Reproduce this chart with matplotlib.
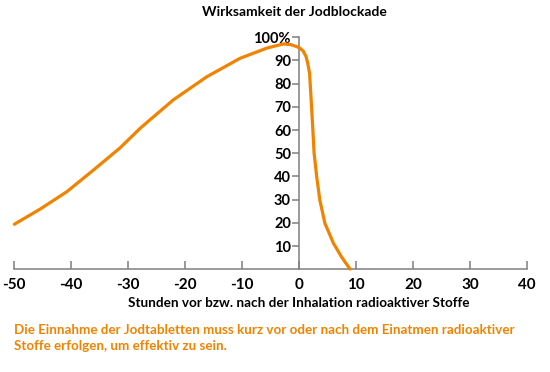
import matplotlib.pyplot as plt

# Stunden relativ zur Inhalation / Wirksamkeit in %
stunden = [-50, -45.5, -40.8, -36.1, -31.5, -27.9, -26.2, -22.1, -16.2, -10.4,
           -7.5, -5.7, -2.8, -1.5, -0.5, 0.1, 0.7, 1.2, 1.5, 1.8, 2.05, 2.35,
           2.6, 3.05, 3.6, 4.5, 6.0, 7.4, 8.9]
wirkung = [19.4, 25.9, 33.4, 42.8, 52.2, 60.8, 64.4, 73.0, 83.0, 90.9,
           93.6, 95.3, 97.1, 96.8, 96.0, 95.3, 94.0, 91.6, 88.5, 84.5, 74.4, 61.5,
           50, 40, 29.9, 19.8, 11.2, 5.4, 0.1]
x_ticks = [-50, -40, -30, -20, -10, 0, 10, 20, 30, 40]
y_ticks = [10, 20, 30, 40, 50, 60, 70, 80, 90, 100]
y_labels = ['10', '20', '30', '40', '50', '60', '70', '80', '90', '100%']

orange = '#f08300'
grau = '#7f7f7f'
plt.rcParams['font.family'] = ['Lato', 'DejaVu Sans']
plt.rcParams['font.weight'] = 'bold'

fig = plt.figure(figsize=(5.5, 3.72), dpi=100)
ax = fig.add_axes([0.026, 0.276, 0.9327, 0.624])
ax.plot(stunden, wirkung, color=orange, lw=2.3, solid_capstyle='round', clip_on=False, zorder=3)
ax.set_xlim(-50, 40)
ax.set_ylim(0, 100)

for s in ['top', 'right']:
    ax.spines[s].set_visible(False)
ax.spines['left'].set_position(('data', 0))
ax.spines['left'].set_color(grau)
ax.spines['bottom'].set_color(grau)
ax.spines['left'].set_linewidth(1.1)
ax.spines['bottom'].set_linewidth(1.1)

ax.set_xticks(x_ticks)
ax.set_xticklabels([str(t) for t in x_ticks])
ax.set_yticks(y_ticks)
ax.set_yticklabels(y_labels)
ax.tick_params(axis='x', direction='in', length=6, width=1.1, color=grau, pad=6, labelsize=11)
ax.tick_params(axis='y', direction='out', length=5, width=1.1, color=grau, pad=1, labelsize=10.5)

ax.set_xlabel('Stunden vor bzw. nach der Inhalation radioaktiver Stoffe', fontsize=9.7, fontweight='bold')
ax.xaxis.set_label_coords(0.555, -0.12)
fig.text(0.535, 0.967, 'Wirksamkeit der Jodblockade', ha='center', va='center', fontsize=10)
fig.text(0.026, 0.092, 'Die Einnahme der Jodtabletten muss kurz vor oder nach dem Einatmen radioaktiver\n'
         'Stoffe erfolgen, um effektiv zu sein.', ha='left', va='center', color=orange,
         fontsize=9.6, linespacing=1.45)

fig.savefig('out.png', dpi=100)
